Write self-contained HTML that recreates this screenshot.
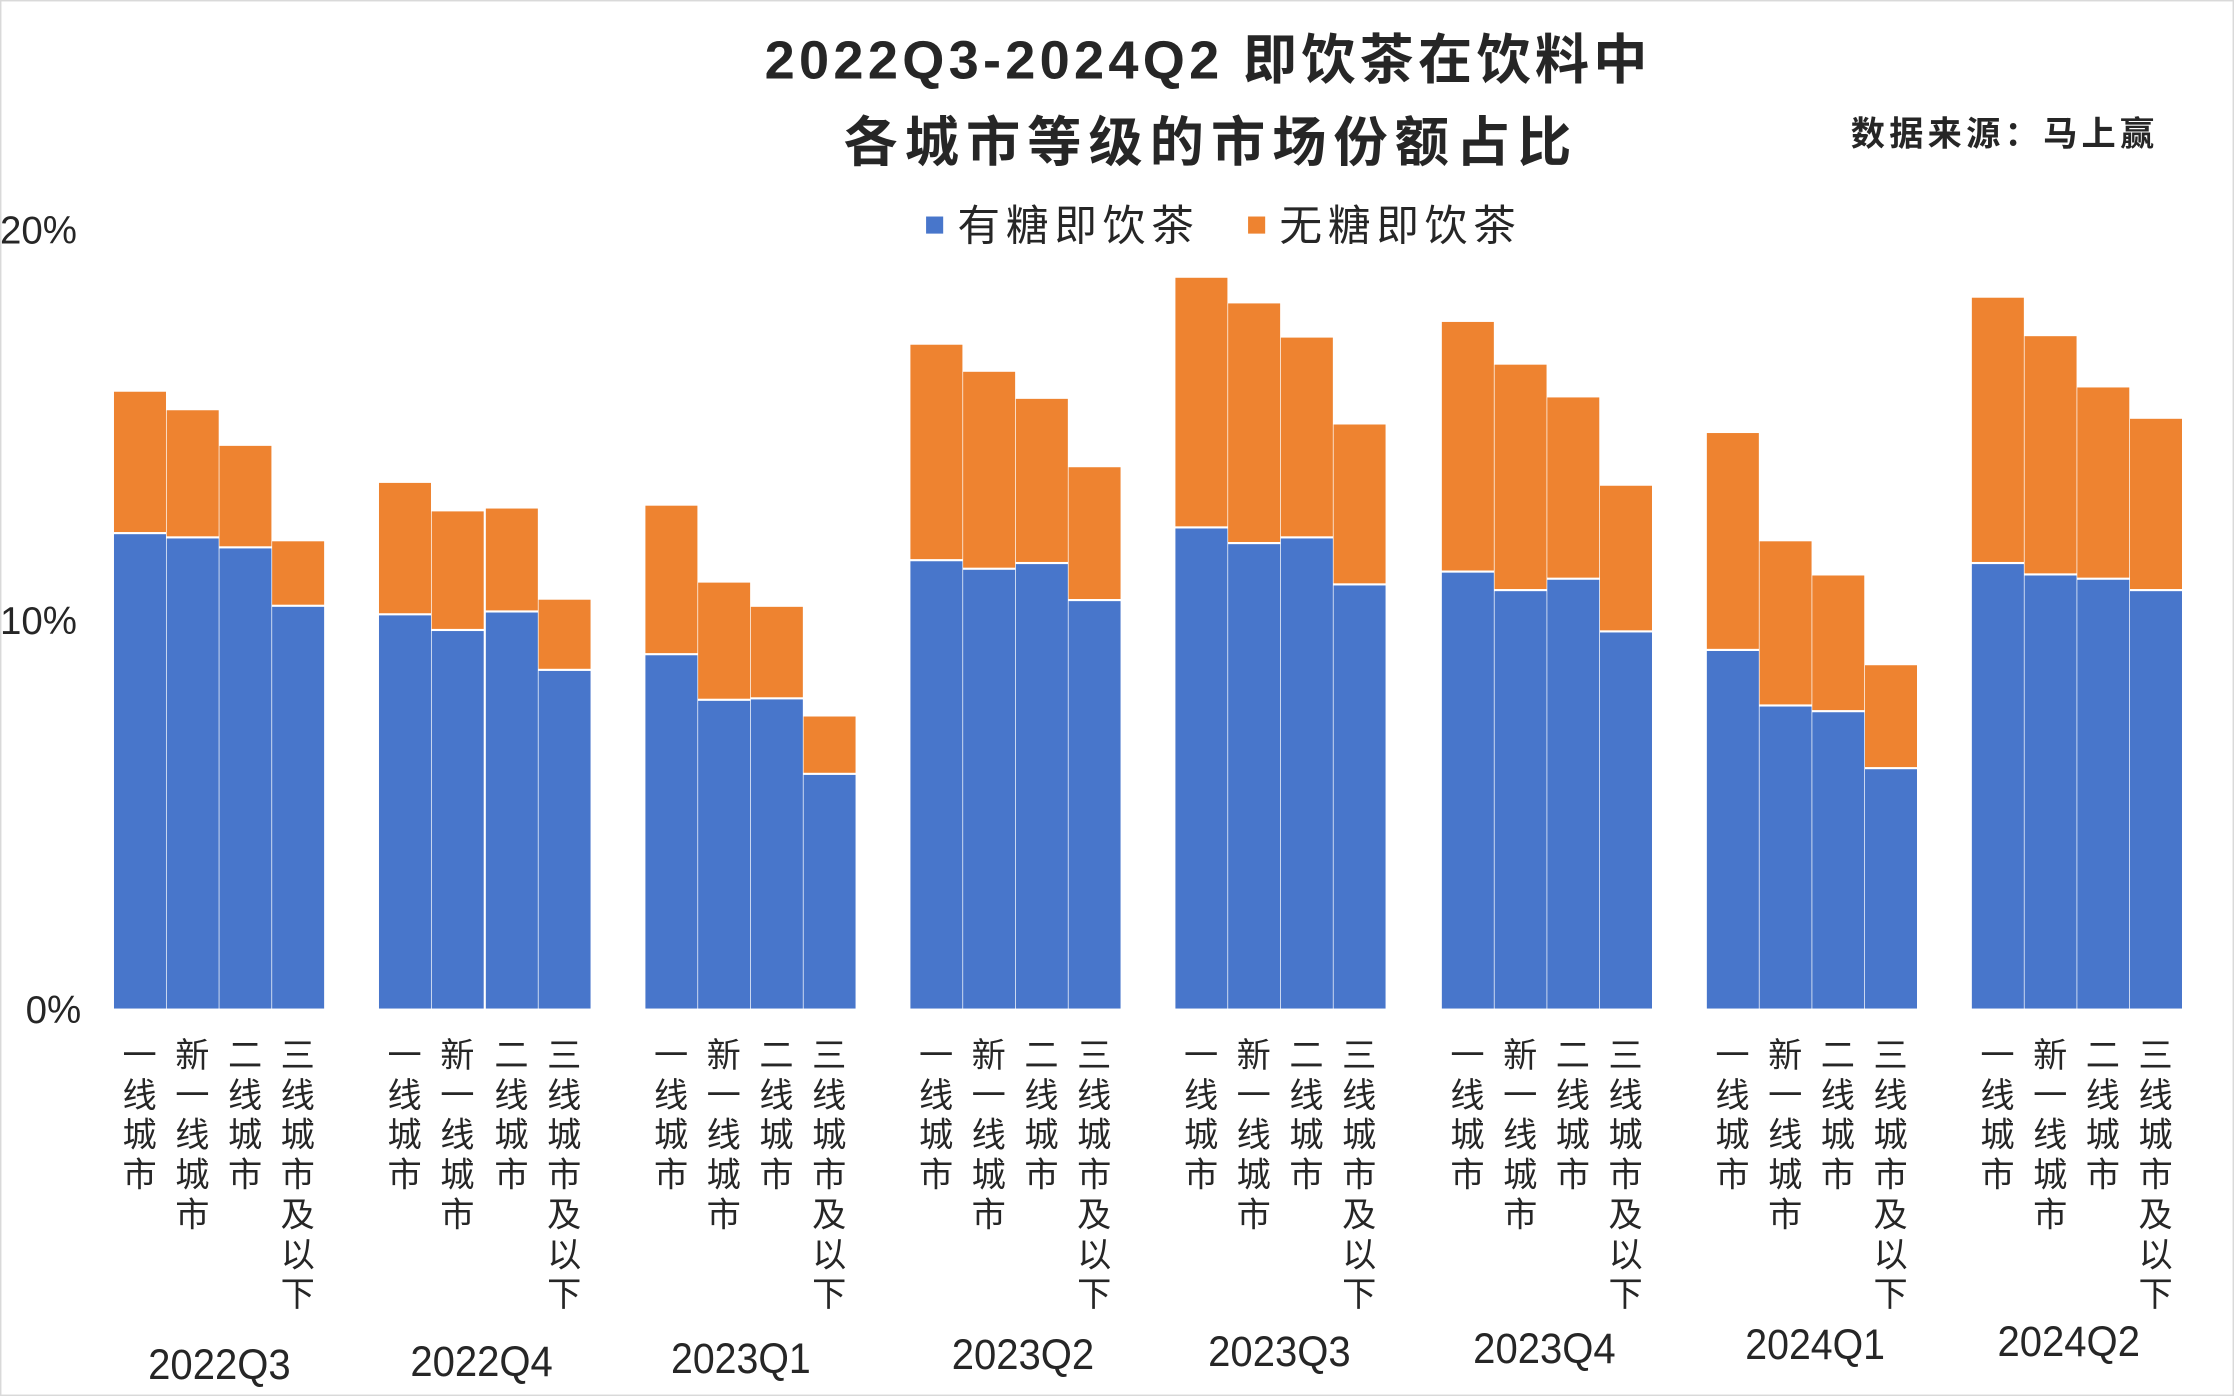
<!DOCTYPE html>
<html><head><meta charset="utf-8"><style>
html,body{margin:0;padding:0;background:#fff;}
svg{display:block;}
text{font-family:"Liberation Sans","Noto Sans CJK SC",sans-serif;fill:#262626;}
</style></head><body>
<svg width="2234" height="1396" viewBox="0 0 1568 980" preserveAspectRatio="none" xmlns="http://www.w3.org/2000/svg">
<rect x="0.5" y="0.5" width="1567" height="979" fill="#fff" stroke="#d9d9d9"/>
<text x="848" y="55" font-size="38" font-weight="bold" text-anchor="middle" fill="#404040" letter-spacing="3">2022Q3-2024Q2 即饮茶在饮料中</text>
<text x="850" y="113" font-size="38" font-weight="bold" text-anchor="middle" fill="#404040" letter-spacing="5">各城市等级的市场份额占比</text>
<text x="1407" y="102" font-size="24" font-weight="bold" text-anchor="middle" fill="#000" letter-spacing="3">数据来源：马上赢</text>
<rect x="650" y="152" width="12" height="12" fill="#4876CB"/>
<text x="672" y="169" font-size="30" fill="#595959" letter-spacing="4">有糖即饮茶</text>
<rect x="876" y="152" width="12" height="12" fill="#EE8330"/>
<text x="898" y="169" font-size="30" fill="#595959" letter-spacing="4">无糖即饮茶</text>
<g font-size="27" fill="#595959">
<text x="0" y="171">20%</text><text x="0" y="445">10%</text><text x="18" y="718">0%</text>
</g>
<g id="bars">
<rect x="80" y="275" width="36.5" height="98.5" fill="#EE8330"/><rect x="80" y="375" width="36.5" height="333" fill="#4876CB"/>
<rect x="117" y="288" width="36.5" height="88.5" fill="#EE8330"/><rect x="117" y="378" width="36.5" height="330" fill="#4876CB"/>
<rect x="154" y="313" width="36.5" height="70.5" fill="#EE8330"/><rect x="154" y="385" width="36.5" height="323" fill="#4876CB"/>
<rect x="191" y="380" width="36.5" height="44.5" fill="#EE8330"/><rect x="191" y="426" width="36.5" height="282" fill="#4876CB"/>
<rect x="266" y="339" width="36.5" height="91.5" fill="#EE8330"/><rect x="266" y="432" width="36.5" height="276" fill="#4876CB"/>
<rect x="303" y="359" width="36.5" height="82.5" fill="#EE8330"/><rect x="303" y="443" width="36.5" height="265" fill="#4876CB"/>
<rect x="341" y="357" width="36.5" height="71.5" fill="#EE8330"/><rect x="341" y="430" width="36.5" height="278" fill="#4876CB"/>
<rect x="378" y="421" width="36.5" height="48.5" fill="#EE8330"/><rect x="378" y="471" width="36.5" height="237" fill="#4876CB"/>
<rect x="453" y="355" width="36.5" height="103.5" fill="#EE8330"/><rect x="453" y="460" width="36.5" height="248" fill="#4876CB"/>
<rect x="490" y="409" width="36.5" height="81.5" fill="#EE8330"/><rect x="490" y="492" width="36.5" height="216" fill="#4876CB"/>
<rect x="527" y="426" width="36.5" height="63.5" fill="#EE8330"/><rect x="527" y="491" width="36.5" height="217" fill="#4876CB"/>
<rect x="564" y="503" width="36.5" height="39.5" fill="#EE8330"/><rect x="564" y="544" width="36.5" height="164" fill="#4876CB"/>
<rect x="639" y="242" width="36.5" height="150.5" fill="#EE8330"/><rect x="639" y="394" width="36.5" height="314" fill="#4876CB"/>
<rect x="676" y="261" width="36.5" height="137.5" fill="#EE8330"/><rect x="676" y="400" width="36.5" height="308" fill="#4876CB"/>
<rect x="713" y="280" width="36.5" height="114.5" fill="#EE8330"/><rect x="713" y="396" width="36.5" height="312" fill="#4876CB"/>
<rect x="750" y="328" width="36.5" height="92.5" fill="#EE8330"/><rect x="750" y="422" width="36.5" height="286" fill="#4876CB"/>
<rect x="825" y="195" width="36.5" height="174.5" fill="#EE8330"/><rect x="825" y="371" width="36.5" height="337" fill="#4876CB"/>
<rect x="862" y="213" width="36.5" height="167.5" fill="#EE8330"/><rect x="862" y="382" width="36.5" height="326" fill="#4876CB"/>
<rect x="899" y="237" width="36.5" height="139.5" fill="#EE8330"/><rect x="899" y="378" width="36.5" height="330" fill="#4876CB"/>
<rect x="936" y="298" width="36.5" height="111.5" fill="#EE8330"/><rect x="936" y="411" width="36.5" height="297" fill="#4876CB"/>
<rect x="1012" y="226" width="36.5" height="174.5" fill="#EE8330"/><rect x="1012" y="402" width="36.5" height="306" fill="#4876CB"/>
<rect x="1049" y="256" width="36.5" height="157.5" fill="#EE8330"/><rect x="1049" y="415" width="36.5" height="293" fill="#4876CB"/>
<rect x="1086" y="279" width="36.5" height="126.5" fill="#EE8330"/><rect x="1086" y="407" width="36.5" height="301" fill="#4876CB"/>
<rect x="1123" y="341" width="36.5" height="101.5" fill="#EE8330"/><rect x="1123" y="444" width="36.5" height="264" fill="#4876CB"/>
<rect x="1198" y="304" width="36.5" height="151.5" fill="#EE8330"/><rect x="1198" y="457" width="36.5" height="251" fill="#4876CB"/>
<rect x="1235" y="380" width="36.5" height="114.5" fill="#EE8330"/><rect x="1235" y="496" width="36.5" height="212" fill="#4876CB"/>
<rect x="1272" y="404" width="36.5" height="94.5" fill="#EE8330"/><rect x="1272" y="500" width="36.5" height="208" fill="#4876CB"/>
<rect x="1309" y="467" width="36.5" height="71.5" fill="#EE8330"/><rect x="1309" y="540" width="36.5" height="168" fill="#4876CB"/>
<rect x="1384" y="209" width="36.5" height="185.5" fill="#EE8330"/><rect x="1384" y="396" width="36.5" height="312" fill="#4876CB"/>
<rect x="1421" y="236" width="36.5" height="166.5" fill="#EE8330"/><rect x="1421" y="404" width="36.5" height="304" fill="#4876CB"/>
<rect x="1458" y="272" width="36.5" height="133.5" fill="#EE8330"/><rect x="1458" y="407" width="36.5" height="301" fill="#4876CB"/>
<rect x="1495" y="294" width="36.5" height="119.5" fill="#EE8330"/><rect x="1495" y="415" width="36.5" height="293" fill="#4876CB"/>
</g>
<g font-size="24" fill="#595959" text-anchor="middle">
<text x="98" y="749"><tspan x="98">一</tspan><tspan x="98" dy="28">线</tspan><tspan x="98" dy="28">城</tspan><tspan x="98" dy="28">市</tspan></text>
<text x="135" y="749"><tspan x="135">新</tspan><tspan x="135" dy="28">一</tspan><tspan x="135" dy="28">线</tspan><tspan x="135" dy="28">城</tspan><tspan x="135" dy="28">市</tspan></text>
<text x="172" y="749"><tspan x="172">二</tspan><tspan x="172" dy="28">线</tspan><tspan x="172" dy="28">城</tspan><tspan x="172" dy="28">市</tspan></text>
<text x="209" y="749"><tspan x="209">三</tspan><tspan x="209" dy="28">线</tspan><tspan x="209" dy="28">城</tspan><tspan x="209" dy="28">市</tspan><tspan x="209" dy="28">及</tspan><tspan x="209" dy="28">以</tspan><tspan x="209" dy="28">下</tspan></text>
<text x="284" y="749"><tspan x="284">一</tspan><tspan x="284" dy="28">线</tspan><tspan x="284" dy="28">城</tspan><tspan x="284" dy="28">市</tspan></text>
<text x="321" y="749"><tspan x="321">新</tspan><tspan x="321" dy="28">一</tspan><tspan x="321" dy="28">线</tspan><tspan x="321" dy="28">城</tspan><tspan x="321" dy="28">市</tspan></text>
<text x="359" y="749"><tspan x="359">二</tspan><tspan x="359" dy="28">线</tspan><tspan x="359" dy="28">城</tspan><tspan x="359" dy="28">市</tspan></text>
<text x="396" y="749"><tspan x="396">三</tspan><tspan x="396" dy="28">线</tspan><tspan x="396" dy="28">城</tspan><tspan x="396" dy="28">市</tspan><tspan x="396" dy="28">及</tspan><tspan x="396" dy="28">以</tspan><tspan x="396" dy="28">下</tspan></text>
<text x="471" y="749"><tspan x="471">一</tspan><tspan x="471" dy="28">线</tspan><tspan x="471" dy="28">城</tspan><tspan x="471" dy="28">市</tspan></text>
<text x="508" y="749"><tspan x="508">新</tspan><tspan x="508" dy="28">一</tspan><tspan x="508" dy="28">线</tspan><tspan x="508" dy="28">城</tspan><tspan x="508" dy="28">市</tspan></text>
<text x="545" y="749"><tspan x="545">二</tspan><tspan x="545" dy="28">线</tspan><tspan x="545" dy="28">城</tspan><tspan x="545" dy="28">市</tspan></text>
<text x="582" y="749"><tspan x="582">三</tspan><tspan x="582" dy="28">线</tspan><tspan x="582" dy="28">城</tspan><tspan x="582" dy="28">市</tspan><tspan x="582" dy="28">及</tspan><tspan x="582" dy="28">以</tspan><tspan x="582" dy="28">下</tspan></text>
<text x="657" y="749"><tspan x="657">一</tspan><tspan x="657" dy="28">线</tspan><tspan x="657" dy="28">城</tspan><tspan x="657" dy="28">市</tspan></text>
<text x="694" y="749"><tspan x="694">新</tspan><tspan x="694" dy="28">一</tspan><tspan x="694" dy="28">线</tspan><tspan x="694" dy="28">城</tspan><tspan x="694" dy="28">市</tspan></text>
<text x="731" y="749"><tspan x="731">二</tspan><tspan x="731" dy="28">线</tspan><tspan x="731" dy="28">城</tspan><tspan x="731" dy="28">市</tspan></text>
<text x="768" y="749"><tspan x="768">三</tspan><tspan x="768" dy="28">线</tspan><tspan x="768" dy="28">城</tspan><tspan x="768" dy="28">市</tspan><tspan x="768" dy="28">及</tspan><tspan x="768" dy="28">以</tspan><tspan x="768" dy="28">下</tspan></text>
<text x="843" y="749"><tspan x="843">一</tspan><tspan x="843" dy="28">线</tspan><tspan x="843" dy="28">城</tspan><tspan x="843" dy="28">市</tspan></text>
<text x="880" y="749"><tspan x="880">新</tspan><tspan x="880" dy="28">一</tspan><tspan x="880" dy="28">线</tspan><tspan x="880" dy="28">城</tspan><tspan x="880" dy="28">市</tspan></text>
<text x="917" y="749"><tspan x="917">二</tspan><tspan x="917" dy="28">线</tspan><tspan x="917" dy="28">城</tspan><tspan x="917" dy="28">市</tspan></text>
<text x="954" y="749"><tspan x="954">三</tspan><tspan x="954" dy="28">线</tspan><tspan x="954" dy="28">城</tspan><tspan x="954" dy="28">市</tspan><tspan x="954" dy="28">及</tspan><tspan x="954" dy="28">以</tspan><tspan x="954" dy="28">下</tspan></text>
<text x="1030" y="749"><tspan x="1030">一</tspan><tspan x="1030" dy="28">线</tspan><tspan x="1030" dy="28">城</tspan><tspan x="1030" dy="28">市</tspan></text>
<text x="1067" y="749"><tspan x="1067">新</tspan><tspan x="1067" dy="28">一</tspan><tspan x="1067" dy="28">线</tspan><tspan x="1067" dy="28">城</tspan><tspan x="1067" dy="28">市</tspan></text>
<text x="1104" y="749"><tspan x="1104">二</tspan><tspan x="1104" dy="28">线</tspan><tspan x="1104" dy="28">城</tspan><tspan x="1104" dy="28">市</tspan></text>
<text x="1141" y="749"><tspan x="1141">三</tspan><tspan x="1141" dy="28">线</tspan><tspan x="1141" dy="28">城</tspan><tspan x="1141" dy="28">市</tspan><tspan x="1141" dy="28">及</tspan><tspan x="1141" dy="28">以</tspan><tspan x="1141" dy="28">下</tspan></text>
<text x="1216" y="749"><tspan x="1216">一</tspan><tspan x="1216" dy="28">线</tspan><tspan x="1216" dy="28">城</tspan><tspan x="1216" dy="28">市</tspan></text>
<text x="1253" y="749"><tspan x="1253">新</tspan><tspan x="1253" dy="28">一</tspan><tspan x="1253" dy="28">线</tspan><tspan x="1253" dy="28">城</tspan><tspan x="1253" dy="28">市</tspan></text>
<text x="1290" y="749"><tspan x="1290">二</tspan><tspan x="1290" dy="28">线</tspan><tspan x="1290" dy="28">城</tspan><tspan x="1290" dy="28">市</tspan></text>
<text x="1327" y="749"><tspan x="1327">三</tspan><tspan x="1327" dy="28">线</tspan><tspan x="1327" dy="28">城</tspan><tspan x="1327" dy="28">市</tspan><tspan x="1327" dy="28">及</tspan><tspan x="1327" dy="28">以</tspan><tspan x="1327" dy="28">下</tspan></text>
<text x="1402" y="749"><tspan x="1402">一</tspan><tspan x="1402" dy="28">线</tspan><tspan x="1402" dy="28">城</tspan><tspan x="1402" dy="28">市</tspan></text>
<text x="1439" y="749"><tspan x="1439">新</tspan><tspan x="1439" dy="28">一</tspan><tspan x="1439" dy="28">线</tspan><tspan x="1439" dy="28">城</tspan><tspan x="1439" dy="28">市</tspan></text>
<text x="1476" y="749"><tspan x="1476">二</tspan><tspan x="1476" dy="28">线</tspan><tspan x="1476" dy="28">城</tspan><tspan x="1476" dy="28">市</tspan></text>
<text x="1513" y="749"><tspan x="1513">三</tspan><tspan x="1513" dy="28">线</tspan><tspan x="1513" dy="28">城</tspan><tspan x="1513" dy="28">市</tspan><tspan x="1513" dy="28">及</tspan><tspan x="1513" dy="28">以</tspan><tspan x="1513" dy="28">下</tspan></text>
</g>
<g font-size="30" fill="#000" text-anchor="middle">
<text x="154" y="968" textLength="100" lengthAdjust="spacingAndGlyphs">2022Q3</text>
<text x="338" y="966" textLength="100" lengthAdjust="spacingAndGlyphs">2022Q4</text>
<text x="520" y="964" textLength="98" lengthAdjust="spacingAndGlyphs">2023Q1</text>
<text x="718" y="961" textLength="100" lengthAdjust="spacingAndGlyphs">2023Q2</text>
<text x="898" y="959" textLength="100" lengthAdjust="spacingAndGlyphs">2023Q3</text>
<text x="1084" y="957" textLength="100" lengthAdjust="spacingAndGlyphs">2023Q4</text>
<text x="1274" y="954" textLength="98" lengthAdjust="spacingAndGlyphs">2024Q1</text>
<text x="1452" y="952" textLength="100" lengthAdjust="spacingAndGlyphs">2024Q2</text>
</g>
</svg>
</body></html>
